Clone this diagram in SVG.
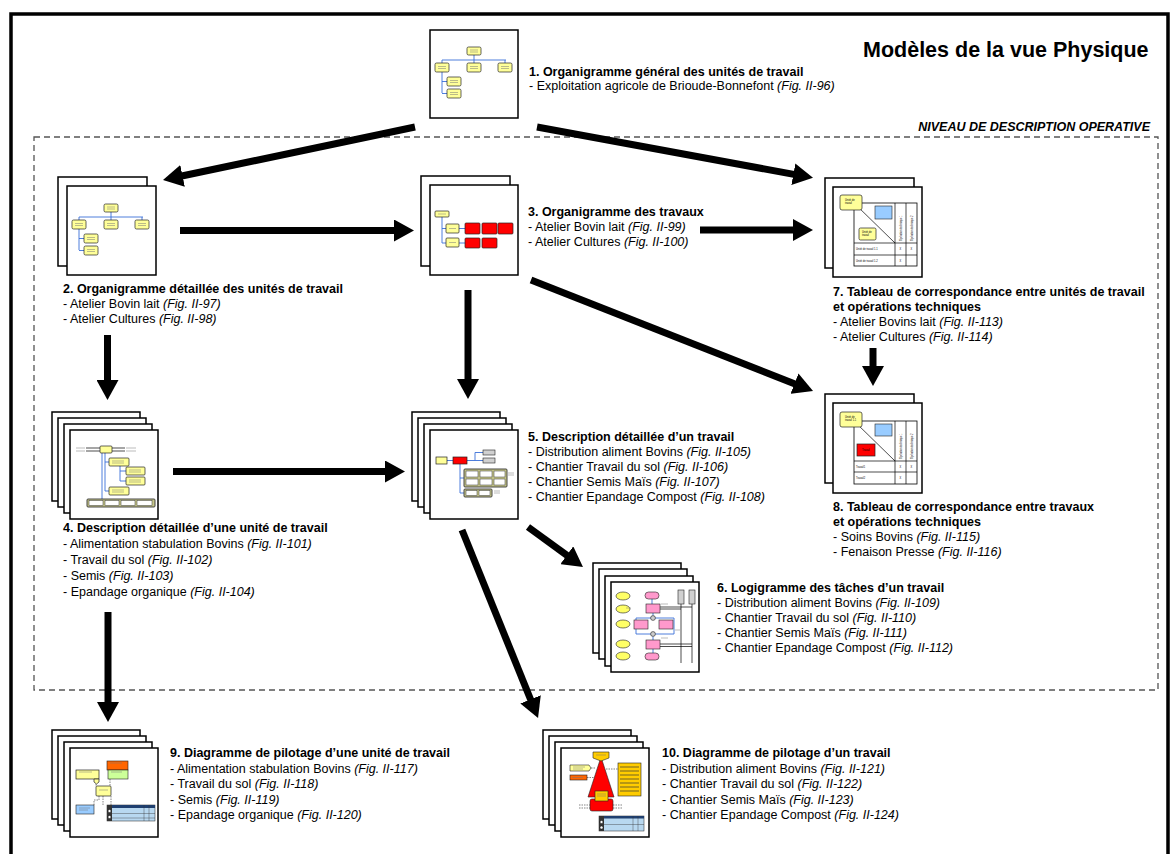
<svg xmlns="http://www.w3.org/2000/svg" width="1172" height="854" viewBox="0 0 1172 854">
<style>
.pg{fill:#fff;stroke:#000;stroke-width:1.5}
.t{font-family:"Liberation Sans",Arial,sans-serif;font-size:12.5px;fill:#000}
.b{font-weight:bold}
.i{font-style:italic}
.h{font-family:"Liberation Sans",Arial,sans-serif;font-weight:bold;fill:#000}
.arr{stroke:#000;stroke-width:7;fill:none;marker-end:url(#ah)}
.yb{fill:#FFFF99;stroke:#222;stroke-width:0.7}
.rb{fill:#FF0000;stroke:#222;stroke-width:0.7}
.gb{fill:#D0D0D0;stroke:#222;stroke-width:0.6}
.ob{fill:#C8C88C;stroke:#333;stroke-width:0.9}
.wb{fill:#fff;stroke:#333;stroke-width:0.5}
.lb{fill:#99CCFF;stroke:#222;stroke-width:0.6}
.pk{fill:#FF99CC;stroke:#222;stroke-width:0.6}
.el{fill:#FFFF66;stroke:#222;stroke-width:0.6}
.bl{stroke:#3A6FD8;stroke-width:0.9;fill:none}
.ln{stroke:#000;stroke-width:0.7;fill:none}
.dl{stroke:#333;stroke-width:0.6;fill:none;stroke-dasharray:1.5,1}
.mk{stroke:#777;stroke-width:0.5;fill:none}
.tt{font-family:"Liberation Sans",Arial,sans-serif;font-size:2.6px;fill:#000}
</style>
<defs>
<marker id="ah" markerUnits="userSpaceOnUse" markerWidth="20" markerHeight="22" viewBox="0 0 20 22" refX="2" refY="11" orient="auto">
<path d="M0,0 L20,11 L0,22 z" fill="#000"/>
</marker>
<g id="org">
<path class="bl" d="M12,30 H76 M44,25 V30 M12,30 V33 M44,30 V33 M75,30 V33 M12,42 V63 M12,51.5 H17 M12,63.5 H17"/>
<rect class="yb" x="37" y="17" width="14" height="8" rx="1.5"/>
<rect class="yb" x="5" y="33" width="14" height="9" rx="1.5"/>
<rect class="yb" x="37" y="33" width="14" height="9" rx="1.5"/>
<rect class="yb" x="68" y="33" width="14" height="9" rx="1.5"/>
<rect class="yb" x="17" y="47" width="14" height="9" rx="1.5"/>
<rect class="yb" x="17" y="59" width="14" height="9" rx="1.5"/>
<path class="mk" d="M40,20 H48 M40,22 H48 M8,36.5 H16 M8,38.5 H16 M40,36.5 H48 M40,38.5 H48 M71,36.5 H79 M71,38.5 H79 M20,50.5 H28 M20,52.5 H28 M20,62.5 H28 M20,64.5 H28"/>
</g>
</defs>

<!-- frame -->
<path d="M11,854 V14 H1168 V854" fill="none" stroke="#000" stroke-width="3.5"/>
<rect x="34" y="137" width="1124" height="553" fill="none" stroke="#555" stroke-width="1.3" stroke-dasharray="6,4"/>
<text class="h" x="863" y="57" font-size="21.5">Modèles de la vue Physique</text>
<text class="h i" x="1150" y="131" font-size="12.5" text-anchor="end">NIVEAU DE DESCRIPTION OPERATIVE</text>

<!-- connectors -->
<g id="connectors">
<line class="arr" x1="415" y1="127" x2="180.6" y2="176.3"/>
<line class="arr" x1="537" y1="127" x2="795.3" y2="174.6"/>
<line class="arr" x1="180" y1="230.5" x2="396" y2="230.5"/>
<line class="arr" x1="700" y1="230" x2="795" y2="230"/>
<line class="arr" x1="468" y1="290" x2="468" y2="381"/>
<line class="arr" x1="531" y1="280" x2="796.3" y2="384.4"/>
<line class="arr" x1="873" y1="348" x2="873" y2="368"/>
<line class="arr" x1="107.5" y1="335" x2="107.5" y2="382"/>
<line class="arr" x1="173" y1="471.5" x2="387" y2="471.5"/>
<line class="arr" x1="528" y1="527" x2="568.4" y2="556.4"/>
<line class="arr" x1="462" y1="530" x2="531.3" y2="701.3"/>
<line class="arr" x1="108" y1="612" x2="108" y2="704"/>
</g>

<!-- node 1 -->
<g id="node1">
<rect class="pg" x="430" y="30" width="88" height="88"/>
<use href="#org" x="430" y="30"/>
<text class="t b" x="529" y="76">1. Organigramme général des unités de travail</text>
<text class="t" x="529" y="90">- Exploitation agricole de Brioude-Bonnefont <tspan class="i">(Fig. II-96)</tspan></text>
</g>

<!-- node 2 -->
<g id="node2">
<rect class="pg" x="58" y="177" width="89" height="89"/>
<rect class="pg" x="67" y="186" width="89" height="89"/>
<use href="#org" x="67" y="187"/>
<text class="t b" x="63" y="293">2. Organigramme détaillée des unités de travail</text>
<text class="t" x="63" y="308">- Atelier Bovin lait <tspan class="i">(Fig. II-97)</tspan></text>
<text class="t" x="63" y="323">- Atelier Cultures <tspan class="i">(Fig. II-98)</tspan></text>
</g>

<!-- node 3 -->
<g id="node3">
<rect class="pg" x="421" y="176" width="89" height="90"/>
<rect class="pg" x="430" y="185" width="88" height="90"/>
<g transform="translate(430,185)">
<path class="bl" d="M12,32 V58 M12,43.5 H16 M12,58 H16 M29,43.5 H35 M29,58 H35"/>
<rect class="yb" x="5" y="26" width="14" height="6" rx="1"/>
<rect class="yb" x="16" y="39" width="13" height="9" rx="1"/>
<rect class="yb" x="16" y="53" width="13" height="9" rx="1"/>
<rect class="rb" x="35" y="38" width="15" height="11" rx="1"/>
<rect class="rb" x="52" y="38" width="15" height="11" rx="1"/>
<rect class="rb" x="68" y="38" width="15" height="11" rx="1"/>
<rect class="rb" x="35" y="53" width="15" height="10" rx="1"/>
<rect class="rb" x="52" y="53" width="15" height="10" rx="1"/>
<path class="mk" d="M8,29 H16 M19,43.5 H26 M19,57.5 H26"/>
</g>
<text class="t b" x="528" y="216">3. Organigramme des travaux</text>
<text class="t" x="528" y="231">- Atelier Bovin lait <tspan class="i">(Fig. II-99)</tspan></text>
<text class="t" x="528" y="246">- Atelier Cultures <tspan class="i">(Fig. II-100)</tspan></text>
</g>

<!-- node 7 -->
<g id="node7">
<rect class="pg" x="825" y="178" width="89" height="90"/>
<rect class="pg" x="833" y="187" width="89" height="90"/>
<g transform="translate(833,187)">
<rect x="21" y="16" width="63" height="63" fill="none" stroke="#000" stroke-width="0.8"/>
<path class="ln" d="M21,56 H84 M21,68 H84 M62,16 V79 M73,16 V79 M21,16 L62,56"/>
<rect class="lb" x="42" y="19" width="17" height="13"/>
<rect class="yb" x="26" y="41" width="17" height="12" rx="1.5"/>
<rect class="yb" x="7" y="8" width="22" height="15" rx="2"/>
<text class="tt" x="12" y="14">Unité de</text>
<text class="tt" x="12" y="17">travail</text>
<text class="tt" x="29" y="46">Unité de</text>
<text class="tt" x="29" y="49">travail</text>
<text class="tt" transform="translate(68.5,54) rotate(-90)">Opération technique 1</text>
<text class="tt" transform="translate(79.5,54) rotate(-90)">Opération technique 2</text>
<text class="tt" x="23" y="63">Unité de travail 1.1</text>
<text class="tt" x="23" y="75">Unité de travail 1.2</text>
<text class="tt" x="66.5" y="63">X</text>
<text class="tt" x="77.5" y="63">X</text>
<text class="tt" x="66.5" y="75">X</text>
</g>
<text class="t b" x="833" y="296">7. Tableau de correspondance entre unités de travail</text>
<text class="t b" x="833" y="311">et opérations techniques</text>
<text class="t" x="833" y="326">- Atelier Bovins lait <tspan class="i">(Fig. II-113)</tspan></text>
<text class="t" x="833" y="341">- Atelier Cultures <tspan class="i">(Fig. II-114)</tspan></text>
</g>

<!-- node 8 -->
<g id="node8">
<rect class="pg" x="825" y="394" width="89" height="89"/>
<rect class="pg" x="833" y="403" width="89" height="90"/>
<g transform="translate(833,403)">
<rect x="21" y="18" width="63" height="63" fill="none" stroke="#000" stroke-width="0.8"/>
<path class="ln" d="M21,58 H84 M21,69 H84 M62,18 V81 M73,18 V81 M21,18 L62,58"/>
<rect class="lb" x="42" y="21" width="17" height="12"/>
<rect class="rb" x="24" y="41" width="18" height="12"/>
<rect class="yb" x="7" y="9" width="22" height="15" rx="2"/>
<text class="tt" x="12" y="15">Unité de</text>
<text class="tt" x="12" y="18">travail 1.1</text>
<text class="tt" x="29" y="48">Travail</text>
<text class="tt" transform="translate(68.5,56) rotate(-90)">Opération technique 1</text>
<text class="tt" transform="translate(79.5,56) rotate(-90)">Opération technique 2</text>
<text class="tt" x="23" y="64.5">Travail1</text>
<text class="tt" x="23" y="76">Travail2</text>
<text class="tt" x="66.5" y="64.5">X</text>
<text class="tt" x="77.5" y="64.5">X</text>
<text class="tt" x="66.5" y="76">X</text>
</g>
<text class="t b" x="833" y="511">8. Tableau de correspondance entre travaux</text>
<text class="t b" x="833" y="526">et opérations techniques</text>
<text class="t" x="833" y="541">- Soins Bovins <tspan class="i">(Fig. II-115)</tspan></text>
<text class="t" x="833" y="556">- Fenaison Presse <tspan class="i">(Fig. II-116)</tspan></text>
</g>

<!-- node 4 -->
<g id="node4">
<rect class="pg" x="52" y="412" width="88" height="89"/>
<rect class="pg" x="58" y="418" width="88" height="89"/>
<rect class="pg" x="64" y="424" width="88" height="89"/>
<rect class="pg" x="70" y="430" width="88" height="89"/>
<g transform="translate(70,430)">
<path class="ln" d="M16,18 H30 M16,21 H30 M42,18 H55 M42,21 H55"/>
<path class="mk" d="M6,18 H15 M6,21 H15 M56,18 H66 M56,21 H66"/>
<path class="bl" d="M32,23 V70 M35,23 V61 M35,32 H39 M35,61 H39 M50,36 V51 M50,41 H56 M50,51 H56"/>
<rect class="yb" x="30" y="16" width="12" height="7" rx="1"/>
<rect class="yb" x="39" y="28" width="20" height="8" rx="1"/>
<rect class="yb" x="56" y="37" width="19" height="8" rx="1"/>
<rect class="yb" x="56" y="47" width="19" height="8" rx="1"/>
<rect class="yb" x="39" y="57" width="20" height="8" rx="1"/>
<rect class="ob" x="17" y="69" width="68" height="8" rx="1" fill="#E6E680"/>
<rect class="wb" x="19" y="70.5" width="14" height="5"/>
<rect class="wb" x="35" y="70.5" width="14" height="5"/>
<rect class="wb" x="51" y="70.5" width="14" height="5"/>
<rect class="wb" x="67" y="70.5" width="15" height="5"/>
<path class="mk" d="M42,31 H54 M42,33 H54 M59,40 H71 M59,42 H71 M59,50 H71 M59,52 H71 M42,60 H54 M42,62 H54"/>
</g>
<text class="t b" x="63" y="532">4. Description détaillée d’une unité de travail</text>
<text class="t" x="63" y="548">- Alimentation stabulation Bovins <tspan class="i">(Fig. II-101)</tspan></text>
<text class="t" x="63" y="564">- Travail du sol <tspan class="i">(Fig. II-102)</tspan></text>
<text class="t" x="63" y="580">- Semis <tspan class="i">(Fig. II-103)</tspan></text>
<text class="t" x="63" y="596">- Epandage organique <tspan class="i">(Fig. II-104)</tspan></text>
</g>

<!-- node 5 -->
<g id="node5">
<rect class="pg" x="412" y="412" width="88" height="89"/>
<rect class="pg" x="418" y="418" width="88" height="89"/>
<rect class="pg" x="424" y="424" width="88" height="89"/>
<rect class="pg" x="430" y="430" width="88" height="89"/>
<g transform="translate(430,430)">
<path class="bl" d="M17,30.5 H23 M37,30.5 H45 M45,22.5 V30.5 M45,22.5 H53 M45,30.5 H53 M30,34 V63 M30,48 H34 M30,63 H34"/>
<rect class="yb" x="6" y="27" width="11" height="7"/>
<rect class="rb" x="23" y="27" width="14" height="7"/>
<rect class="gb" x="53" y="20" width="12" height="5"/>
<rect class="gb" x="53" y="28" width="12" height="5"/>
<rect class="ob" x="34" y="39" width="43" height="18" rx="1"/>
<rect class="wb" x="36" y="41" width="12" height="6"/>
<rect class="wb" x="50" y="41" width="12" height="6"/>
<rect class="wb" x="64" y="41" width="11" height="6"/>
<rect class="wb" x="36" y="49" width="12" height="6"/>
<rect class="wb" x="50" y="49" width="12" height="6"/>
<rect class="wb" x="64" y="49" width="11" height="6"/>
<rect class="ob" x="34" y="59" width="28" height="8" rx="1"/>
<rect class="wb" x="36" y="60.5" width="11" height="5"/>
<rect class="wb" x="49" y="60.5" width="11" height="5"/>
<path class="mk" d="M78,43 H84 M78,45 H84 M64,61 H70 M64,63 H70"/>
</g>
<text class="t b" x="528" y="441">5. Description détaillée d’un travail</text>
<text class="t" x="528" y="456">- Distribution aliment Bovins <tspan class="i">(Fig. II-105)</tspan></text>
<text class="t" x="528" y="471">- Chantier Travail du sol <tspan class="i">(Fig. II-106)</tspan></text>
<text class="t" x="528" y="486">- Chantier Semis Maïs <tspan class="i">(Fig. II-107)</tspan></text>
<text class="t" x="528" y="501">- Chantier Epandage Compost <tspan class="i">(Fig. II-108)</tspan></text>
</g>

<!-- node 6 -->
<g id="node6">
<rect class="pg" x="593" y="563" width="88" height="90"/>
<rect class="pg" x="599" y="569" width="88" height="90"/>
<rect class="pg" x="605" y="576" width="88" height="90"/>
<rect class="pg" x="611" y="582" width="88" height="90"/>
<g transform="translate(611,582)">
<ellipse class="el" cx="12" cy="14" rx="7" ry="4"/>
<ellipse class="el" cx="12" cy="27" rx="7" ry="4"/>
<ellipse class="el" cx="12" cy="42" rx="7" ry="4"/>
<ellipse class="el" cx="12" cy="62" rx="7" ry="4"/>
<ellipse class="el" cx="12" cy="74" rx="7" ry="4"/>
<path class="ln" d="M70,22 V81 M81,22 V81 M49,25 H81 M49,27 H70 M49,62 H81 M49,64.5 H81"/>
<path class="bl" d="M41,17 V22 M42,31 V33.5 M25,36 H63 V52 H25 Z M42,54.5 V58 M42,67 V71"/>
<rect class="gb" x="67" y="8" width="6" height="14"/>
<rect class="gb" x="78" y="8" width="6" height="14"/>
<rect class="pk" x="34" y="10" width="14" height="7" rx="3.5"/>
<rect class="pk" x="35" y="22" width="14" height="9"/>
<circle cx="42" cy="36" r="2.4" fill="#ccc" stroke="#222" stroke-width="0.6"/>
<rect class="pk" x="23" y="38" width="14" height="9"/>
<rect class="pk" x="48" y="38" width="14" height="9"/>
<circle cx="42" cy="52" r="2.4" fill="#ccc" stroke="#222" stroke-width="0.6"/>
<rect class="pk" x="35" y="58" width="14" height="9"/>
<rect class="pk" x="34" y="71" width="14" height="7" rx="3.5"/>
<path class="mk" d="M50,22 H57 M50,56 H57 M15,26 H20 M64,48 H69"/>
</g>
<text class="t b" x="717" y="592">6. Logigramme des tâches d’un travail</text>
<text class="t" x="717" y="607">- Distribution aliment Bovins <tspan class="i">(Fig. II-109)</tspan></text>
<text class="t" x="717" y="622">- Chantier Travail du sol <tspan class="i">(Fig. II-110)</tspan></text>
<text class="t" x="717" y="637">- Chantier Semis Maïs <tspan class="i">(Fig. II-111)</tspan></text>
<text class="t" x="717" y="652">- Chantier Epandage Compost <tspan class="i">(Fig. II-112)</tspan></text>
</g>

<!-- node 9 -->
<g id="node9">
<rect class="pg" x="52" y="730" width="88" height="89"/>
<rect class="pg" x="58" y="736" width="88" height="89"/>
<rect class="pg" x="64" y="742" width="88" height="89"/>
<rect class="pg" x="70" y="748" width="88" height="89"/>
<g transform="translate(70,748)">
<path class="dl" d="M26,31 V38 M40,31 V38 M33,48 V57 M24,57 V52 H29 V48 M41,48 V57"/>
<rect fill="#FF6600" stroke="#222" stroke-width="0.6" x="37" y="13" width="21" height="9"/>
<rect fill="#CCFF99" stroke="#222" stroke-width="0.6" x="38" y="22" width="20" height="9"/>
<rect class="yb" x="6" y="22" width="23" height="9"/>
<path class="yb" d="M24,31 H29 V34 L26.5,36 L24,34 Z"/>
<rect class="yb" x="26" y="38" width="15" height="10" rx="1"/>
<rect class="lb" x="6" y="57" width="18" height="9"/>
<rect fill="#B8D8F0" stroke="#222" stroke-width="0.5" x="37" y="57" width="48" height="16"/>
<rect fill="#1F3F6F" x="37" y="57" width="48" height="3"/>
<rect fill="#333" x="37" y="57" width="5" height="16"/>
<circle cx="39.5" cy="63" r="1.5" fill="#fff" stroke="#000" stroke-width="0.4"/>
<circle cx="39.5" cy="69" r="1.5" fill="#fff" stroke="#000" stroke-width="0.4"/>
<path d="M42,65.5 H85 M42,70 H85 M74,57 V73 M79,57 V73" stroke="#333" stroke-width="0.4" fill="none"/>
<path class="mk" d="M40,15 H52 M9,24 H22 M41,24 H52 M29,42 H38 M9,60 H20 M9,62 H18"/>
</g>
<text class="t b" x="170" y="757">9. Diagramme de pilotage d’une unité de travail</text>
<text class="t" x="170" y="772.5">- Alimentation stabulation Bovins <tspan class="i">(Fig. II-117)</tspan></text>
<text class="t" x="170" y="788">- Travail du sol <tspan class="i">(Fig. II-118)</tspan></text>
<text class="t" x="170" y="803.5">- Semis <tspan class="i">(Fig. II-119)</tspan></text>
<text class="t" x="170" y="819">- Epandage organique <tspan class="i">(Fig. II-120)</tspan></text>
</g>

<!-- node 10 -->
<g id="node10">
<rect class="pg" x="543" y="730" width="88" height="89"/>
<rect class="pg" x="549" y="736" width="88" height="89"/>
<rect class="pg" x="555" y="742" width="88" height="89"/>
<rect class="pg" x="561" y="748" width="88" height="89"/>
<g transform="translate(561,748)">
<path class="dl" d="M30,20 H35 M26,29.5 H33 M45,21 H57 M18,57 H29 M18,60 H29 M52,57 H62 M52,60 H62"/>
<path d="M40,9 L53,49 H27 Z" fill="#FF0000" stroke="#222" stroke-width="0.6"/>
<path d="M32,4 H48 V10 L40,13 L32,10 Z" fill="#FFCC00" stroke="#222" stroke-width="0.6"/>
<rect x="29" y="51" width="23" height="12" rx="2" fill="#FF0000" stroke="#222" stroke-width="0.6"/>
<rect x="34" y="43" width="13" height="10" fill="#FFCC00" stroke="#222" stroke-width="0.6"/>
<path d="M9,17 H28 L30,20 L28,23 H9 Z" fill="#FFFF99" stroke="#222" stroke-width="0.6"/>
<rect x="9" y="27" width="17" height="5" fill="#FF6600" stroke="#222" stroke-width="0.6"/>
<rect x="57" y="15" width="23" height="33" fill="#FFCC00" stroke="#222" stroke-width="0.6"/>
<path d="M59,19 H78 M59,23 H78 M59,27 H78 M59,31 H78 M59,35 H78 M59,39 H78 M59,43 H78" stroke="#333" stroke-width="0.7" fill="none"/>
<rect fill="#B8D8F0" stroke="#222" stroke-width="0.5" x="38" y="68" width="45" height="15"/>
<rect fill="#1F3F6F" x="38" y="68" width="45" height="2.5"/>
<rect fill="#333" x="38" y="68" width="5" height="15"/>
<circle cx="40.5" cy="74" r="1.5" fill="#fff" stroke="#000" stroke-width="0.4"/>
<circle cx="40.5" cy="79.5" r="1.5" fill="#fff" stroke="#000" stroke-width="0.4"/>
<path d="M43,76.5 H83 M72,68 V83 M77,68 V83" stroke="#333" stroke-width="0.4" fill="none"/>
<path class="mk" d="M12,19 H24 M12,21 H22 M11,29.5 H22 M36,46 H45 M36,48 H45 M35,7 H45"/>
</g>
<text class="t b" x="662" y="757">10. Diagramme de pilotage d’un travail</text>
<text class="t" x="662" y="772.5">- Distribution aliment Bovins <tspan class="i">(Fig. II-121)</tspan></text>
<text class="t" x="662" y="788">- Chantier Travail du sol <tspan class="i">(Fig. II-122)</tspan></text>
<text class="t" x="662" y="803.5">- Chantier Semis Maïs <tspan class="i">(Fig. II-123)</tspan></text>
<text class="t" x="662" y="819">- Chantier Epandage Compost <tspan class="i">(Fig. II-124)</tspan></text>
</g>
</svg>
